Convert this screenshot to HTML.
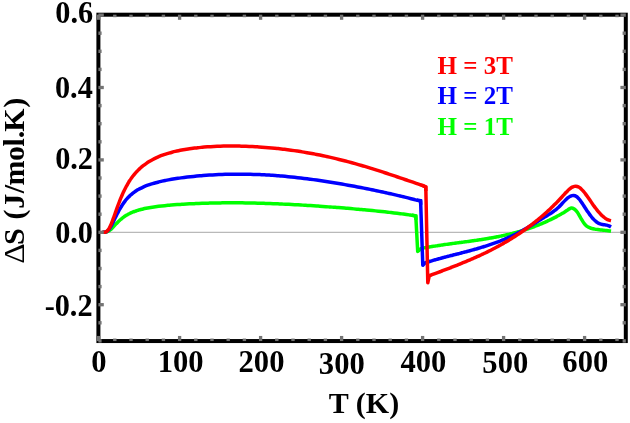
<!DOCTYPE html>
<html><head><meta charset="utf-8"><title>Chart</title>
<style>html,body{margin:0;padding:0;background:#fff}svg{display:block}</style></head>
<body>
<svg width="630" height="423" viewBox="0 0 630 423">
<rect width="630" height="423" fill="#fff"/>
<line x1="100" x2="624" y1="232.40" y2="232.40" stroke="#b9b9b9" stroke-width="1.3"/>
<path d="M102.50 232.30C102.69 232.30 103.26 232.30 103.64 232.29C104.02 232.29 104.39 232.28 104.77 232.25C105.15 232.22 105.53 232.19 105.91 232.11C106.29 232.04 106.67 231.94 107.05 231.81C107.42 231.67 107.80 231.50 108.18 231.30C108.56 231.09 108.94 230.85 109.32 230.57C109.70 230.30 110.08 229.99 110.45 229.67C110.83 229.34 111.21 228.98 111.59 228.62C111.97 228.25 112.35 227.86 112.73 227.47C113.11 227.08 113.48 226.68 113.86 226.27C114.24 225.87 114.62 225.46 115.00 225.06C115.38 224.66 115.76 224.25 116.14 223.86C116.52 223.46 116.89 223.07 117.27 222.68C117.65 222.30 118.03 221.93 118.41 221.56C118.79 221.19 119.17 220.84 119.55 220.49C119.92 220.14 120.30 219.81 120.68 219.48C121.06 219.15 121.44 218.84 121.82 218.53C122.20 218.22 122.58 217.93 122.95 217.64C123.33 217.36 123.71 217.08 124.09 216.81C124.47 216.55 124.85 216.29 125.23 216.04C125.61 215.79 125.98 215.55 126.36 215.32C126.74 215.09 127.12 214.87 127.50 214.66C127.88 214.44 128.26 214.23 128.64 214.03C129.02 213.83 129.39 213.64 129.77 213.46C130.15 213.27 130.53 213.09 130.91 212.92C131.29 212.74 131.67 212.58 132.05 212.42C132.42 212.25 132.80 212.10 133.18 211.95C133.56 211.80 133.94 211.65 134.32 211.51C134.70 211.37 135.08 211.23 135.45 211.10C135.83 210.97 136.21 210.84 136.59 210.72C136.97 210.60 137.35 210.48 137.73 210.36C138.11 210.24 138.48 210.13 138.86 210.02C139.24 209.92 139.29 209.89 140.00 209.71C140.71 209.53 142.07 209.17 143.10 208.93C144.13 208.69 145.16 208.48 146.20 208.27C147.23 208.06 148.26 207.87 149.30 207.69C150.33 207.51 151.36 207.35 152.40 207.19C153.43 207.03 154.46 206.88 155.49 206.74C156.53 206.60 157.56 206.47 158.59 206.34C159.63 206.21 160.66 206.09 161.69 205.98C162.73 205.87 163.76 205.76 164.79 205.65C165.82 205.55 166.86 205.45 167.89 205.36C168.92 205.26 169.96 205.17 170.99 205.09C172.02 205.00 173.05 204.92 174.09 204.84C175.12 204.76 176.15 204.68 177.19 204.61C178.22 204.53 179.25 204.46 180.29 204.39C181.32 204.33 182.35 204.26 183.38 204.20C184.42 204.14 185.45 204.08 186.48 204.02C187.52 203.96 188.55 203.91 189.58 203.85C190.61 203.80 191.65 203.75 192.68 203.70C193.71 203.65 194.75 203.61 195.78 203.56C196.81 203.52 197.85 203.48 198.88 203.44C199.91 203.40 200.94 203.36 201.98 203.33C203.01 203.29 204.04 203.26 205.08 203.22C206.11 203.19 207.14 203.16 208.18 203.13C209.21 203.11 210.24 203.08 211.27 203.06C212.31 203.03 213.34 203.01 214.37 202.99C215.41 202.97 216.44 202.95 217.47 202.93C218.50 202.92 219.54 202.90 220.57 202.89C221.60 202.88 222.64 202.86 223.67 202.85C224.70 202.85 225.74 202.84 226.77 202.83C227.80 202.83 228.83 202.82 229.87 202.82C230.90 202.82 231.93 202.82 232.97 202.82C234.00 202.82 235.03 202.82 236.07 202.82C237.10 202.83 238.13 202.83 239.16 202.84C240.20 202.85 241.23 202.86 242.26 202.87C243.30 202.88 244.33 202.89 245.36 202.91C246.39 202.92 247.43 202.94 248.46 202.96C249.49 202.97 250.53 202.99 251.56 203.01C252.59 203.03 253.63 203.05 254.66 203.08C255.69 203.10 256.72 203.13 257.76 203.15C258.79 203.18 259.82 203.21 260.86 203.24C261.89 203.27 262.92 203.30 263.96 203.33C264.99 203.36 266.02 203.40 267.05 203.43C268.09 203.47 269.12 203.50 270.15 203.54C271.19 203.58 272.22 203.62 273.25 203.66C274.28 203.70 275.32 203.74 276.35 203.78C277.38 203.82 278.42 203.87 279.45 203.91C280.48 203.96 281.52 204.01 282.55 204.05C283.58 204.10 284.61 204.15 285.65 204.20C286.68 204.25 287.71 204.30 288.75 204.35C289.78 204.41 290.81 204.46 291.84 204.51C292.88 204.57 293.91 204.62 294.94 204.68C295.98 204.74 297.01 204.80 298.04 204.85C299.08 204.91 300.11 204.97 301.14 205.03C302.17 205.09 303.21 205.16 304.24 205.22C305.27 205.28 306.31 205.34 307.34 205.41C308.37 205.47 309.41 205.54 310.44 205.60C311.47 205.67 312.50 205.74 313.54 205.81C314.57 205.87 315.60 205.94 316.64 206.01C317.67 206.08 318.70 206.15 319.73 206.22C320.77 206.29 321.80 206.37 322.83 206.44C323.87 206.51 324.90 206.59 325.93 206.66C326.97 206.74 328.00 206.81 329.03 206.89C330.06 206.96 331.10 207.04 332.13 207.12C333.16 207.20 334.20 207.27 335.23 207.35C336.26 207.43 337.30 207.51 338.33 207.59C339.36 207.67 340.39 207.76 341.43 207.84C342.46 207.92 343.49 208.00 344.53 208.09C345.56 208.17 346.59 208.26 347.62 208.34C348.66 208.43 349.69 208.51 350.72 208.60C351.76 208.69 352.79 208.78 353.82 208.87C354.86 208.96 355.89 209.05 356.92 209.14C357.95 209.23 358.99 209.32 360.02 209.41C361.05 209.50 362.09 209.60 363.12 209.69C364.15 209.79 365.19 209.88 366.22 209.98C367.25 210.08 368.28 210.18 369.32 210.27C370.35 210.37 371.38 210.47 372.42 210.57C373.45 210.68 374.48 210.78 375.51 210.88C376.55 210.99 377.58 211.09 378.61 211.20C379.65 211.30 380.68 211.41 381.71 211.52C382.75 211.63 383.78 211.74 384.81 211.85C385.84 211.96 386.88 212.08 387.91 212.19C388.94 212.31 389.98 212.43 391.01 212.55C392.04 212.66 393.07 212.78 394.11 212.91C395.14 213.03 396.17 213.15 397.21 213.28C398.24 213.41 399.27 213.54 400.31 213.67C401.34 213.80 402.37 213.93 403.40 214.06C404.44 214.20 405.47 214.34 406.50 214.48C407.54 214.62 408.57 214.76 409.60 214.91C410.64 215.05 411.67 215.18 412.70 215.35C413.73 215.51 415.28 215.81 415.80 215.90L417.70 251.50L421.30 248.40C421.55 248.36 422.28 248.22 422.77 248.14C423.26 248.05 423.75 247.96 424.24 247.87C424.73 247.78 425.22 247.70 425.71 247.61C426.20 247.52 426.69 247.43 427.18 247.34C427.67 247.25 428.16 247.17 428.65 247.08C429.14 246.99 429.63 246.91 430.12 246.82C430.61 246.74 431.10 246.66 431.59 246.58C432.08 246.50 432.57 246.42 433.06 246.34C433.55 246.26 434.04 246.19 434.53 246.11C435.03 246.03 435.52 245.96 436.01 245.88C436.50 245.80 436.99 245.73 437.48 245.66C437.97 245.58 438.46 245.51 438.95 245.43C439.44 245.36 439.93 245.29 440.42 245.22C440.91 245.15 441.40 245.07 441.89 245.00C442.38 244.93 442.87 244.86 443.36 244.79C443.85 244.72 444.34 244.65 444.83 244.58C445.32 244.52 445.81 244.45 446.30 244.38C446.79 244.31 447.28 244.24 447.77 244.18C448.26 244.11 448.75 244.04 449.24 243.97C449.73 243.91 450.22 243.84 450.71 243.77C451.20 243.71 451.69 243.64 452.18 243.58C452.67 243.51 453.16 243.44 453.65 243.38C454.14 243.31 454.63 243.25 455.12 243.18C455.61 243.12 456.10 243.05 456.59 242.99C457.08 242.92 457.57 242.86 458.06 242.79C458.55 242.73 459.04 242.66 459.53 242.60C460.02 242.53 460.51 242.47 461.00 242.40C461.49 242.34 461.99 242.27 462.48 242.21C462.97 242.14 463.46 242.08 463.95 242.01C464.44 241.95 464.93 241.88 465.42 241.81C465.91 241.75 466.40 241.68 466.89 241.62C467.38 241.55 467.87 241.48 468.36 241.42C468.85 241.35 469.34 241.28 469.83 241.21C470.32 241.15 470.81 241.08 471.30 241.01C471.79 240.94 472.28 240.87 472.77 240.80C473.26 240.73 473.75 240.67 474.24 240.60C474.73 240.53 475.22 240.45 475.71 240.38C476.20 240.31 476.69 240.24 477.18 240.17C477.67 240.10 478.16 240.02 478.65 239.95C479.14 239.88 479.63 239.80 480.12 239.73C480.61 239.66 481.10 239.58 481.59 239.50C482.08 239.43 482.57 239.35 483.06 239.27C483.55 239.20 484.04 239.12 484.53 239.04C485.02 238.96 485.51 238.88 486.00 238.80C486.49 238.72 486.98 238.64 487.47 238.56C487.96 238.47 488.45 238.39 488.94 238.31C489.44 238.22 489.93 238.14 490.42 238.05C490.91 237.97 491.40 237.88 491.89 237.79C492.38 237.70 492.87 237.62 493.36 237.53C493.85 237.44 494.34 237.34 494.83 237.25C495.32 237.16 495.81 237.07 496.30 236.97C496.79 236.88 497.28 236.78 497.77 236.69C498.26 236.59 498.75 236.49 499.24 236.39C499.73 236.29 500.22 236.19 500.71 236.09C501.20 235.99 501.69 235.89 502.18 235.78C502.67 235.68 503.16 235.57 503.65 235.47C504.14 235.36 504.63 235.25 505.12 235.14C505.61 235.03 506.10 234.92 506.59 234.81C507.08 234.69 507.57 234.58 508.06 234.46C508.55 234.35 509.04 234.23 509.53 234.11C510.02 233.99 510.51 233.87 511.00 233.75C511.49 233.63 511.98 233.51 512.47 233.38C512.96 233.26 513.45 233.13 513.94 233.00C514.43 232.87 514.92 232.74 515.41 232.61C515.90 232.48 516.40 232.35 516.89 232.21C517.38 232.07 517.87 231.94 518.36 231.80C518.85 231.66 519.34 231.52 519.83 231.38C520.32 231.23 520.81 231.09 521.30 230.94C521.79 230.80 522.28 230.65 522.77 230.50C523.26 230.35 523.75 230.20 524.24 230.04C524.73 229.89 525.22 229.73 525.71 229.57C526.20 229.41 526.69 229.25 527.18 229.09C527.67 228.93 528.16 228.77 528.65 228.60C529.14 228.43 529.63 228.26 530.12 228.09C530.61 227.92 531.10 227.75 531.59 227.58C532.08 227.40 532.57 227.22 533.06 227.04C533.55 226.86 534.04 226.68 534.53 226.50C535.02 226.32 535.51 226.13 536.00 225.94C536.49 225.75 536.98 225.56 537.47 225.37C537.96 225.18 538.45 224.98 538.94 224.78C539.43 224.59 539.92 224.39 540.41 224.18C540.90 223.98 541.39 223.78 541.88 223.57C542.37 223.36 542.86 223.15 543.36 222.94C543.85 222.73 544.34 222.51 544.83 222.30C545.32 222.08 545.81 221.86 546.30 221.64C546.79 221.41 547.28 221.19 547.77 220.96C548.26 220.73 548.75 220.50 549.24 220.27C549.73 220.04 550.22 219.80 550.71 219.57C551.20 219.33 551.69 219.09 552.18 218.84C552.67 218.60 553.16 218.36 553.65 218.11C554.14 217.86 554.63 217.61 555.12 217.35C555.61 217.10 556.10 216.84 556.59 216.58C557.08 216.32 557.57 216.06 558.06 215.79C558.55 215.53 559.04 215.26 559.53 214.99C560.02 214.72 560.51 214.44 561.00 214.17C561.49 213.89 561.98 213.61 562.47 213.32C562.96 213.04 563.45 212.75 563.94 212.45C564.43 212.15 564.92 211.84 565.41 211.52C565.90 211.20 566.39 210.86 566.88 210.52C567.37 210.18 567.86 209.79 568.35 209.46C568.84 209.14 569.33 208.79 569.82 208.56C570.31 208.32 570.81 208.13 571.30 208.08C571.79 208.02 572.28 208.07 572.77 208.21C573.26 208.36 573.75 208.62 574.24 208.96C574.73 209.30 575.22 209.74 575.71 210.27C576.20 210.79 576.69 211.41 577.18 212.10C577.67 212.78 578.16 213.58 578.65 214.38C579.14 215.18 579.63 216.06 580.12 216.91C580.61 217.76 581.10 218.66 581.59 219.49C582.08 220.32 582.57 221.16 583.06 221.90C583.55 222.65 584.04 223.35 584.53 223.94C585.02 224.54 585.51 225.05 586.00 225.49C586.49 225.94 586.98 226.30 587.47 226.62C587.96 226.95 588.45 227.20 588.94 227.43C589.43 227.66 589.92 227.84 590.41 228.01C590.90 228.18 591.39 228.31 591.88 228.45C592.37 228.59 592.86 228.71 593.35 228.82C593.84 228.93 594.33 229.03 594.82 229.13C595.31 229.22 595.80 229.31 596.29 229.38C596.78 229.46 597.27 229.53 597.77 229.60C598.26 229.67 598.75 229.73 599.24 229.78C599.73 229.84 600.22 229.89 600.71 229.94C601.20 229.99 601.69 230.04 602.18 230.09C602.67 230.14 603.16 230.18 603.65 230.23C604.14 230.28 604.63 230.33 605.12 230.38C605.61 230.44 606.10 230.49 606.59 230.55C607.08 230.61 607.57 230.67 608.06 230.74C608.55 230.81 609.04 230.89 609.53 230.97C610.02 231.06 610.75 231.20 611.00 231.25" fill="none" stroke="#00ff00" stroke-width="3.5" stroke-linejoin="round" stroke-linecap="butt"/>
<path d="M411.85 215.27L415.80 215.90L416.01 219.89" fill="none" stroke="#00ff00" stroke-width="3.5" stroke-linejoin="miter" stroke-miterlimit="6" stroke-linecap="butt"/>
<path d="M102.50 232.30C102.69 232.30 103.26 232.30 103.64 232.29C104.02 232.27 104.39 232.26 104.77 232.21C105.15 232.15 105.53 232.08 105.91 231.94C106.29 231.79 106.67 231.61 107.05 231.35C107.42 231.09 107.80 230.76 108.18 230.36C108.56 229.97 108.94 229.49 109.32 228.97C109.70 228.45 110.08 227.85 110.45 227.22C110.83 226.59 111.21 225.90 111.59 225.19C111.97 224.49 112.35 223.73 112.73 222.98C113.11 222.23 113.48 221.44 113.86 220.66C114.24 219.89 114.62 219.10 115.00 218.32C115.38 217.54 115.76 216.76 116.14 215.99C116.52 215.23 116.89 214.47 117.27 213.73C117.65 212.99 118.03 212.26 118.41 211.56C118.79 210.85 119.17 210.16 119.55 209.49C119.92 208.82 120.30 208.16 120.68 207.53C121.06 206.90 121.44 206.29 121.82 205.70C122.20 205.11 122.58 204.53 122.95 203.98C123.33 203.43 123.71 202.89 124.09 202.38C124.47 201.86 124.85 201.36 125.23 200.88C125.61 200.40 125.98 199.94 126.36 199.49C126.74 199.04 127.12 198.61 127.50 198.19C127.88 197.78 128.26 197.38 128.64 196.99C129.02 196.60 129.39 196.23 129.77 195.87C130.15 195.51 130.53 195.16 130.91 194.82C131.29 194.49 131.67 194.16 132.05 193.85C132.42 193.54 132.80 193.23 133.18 192.94C133.56 192.65 133.94 192.37 134.32 192.09C134.70 191.82 135.08 191.56 135.45 191.30C135.83 191.04 136.21 190.80 136.59 190.56C136.97 190.32 137.35 190.08 137.73 189.86C138.11 189.63 138.48 189.41 138.86 189.20C139.24 188.99 139.29 188.94 140.00 188.59C140.71 188.23 142.10 187.53 143.15 187.05C144.20 186.57 145.25 186.14 146.31 185.73C147.36 185.32 148.41 184.95 149.46 184.59C150.51 184.23 151.56 183.90 152.61 183.58C153.66 183.26 154.71 182.97 155.76 182.69C156.81 182.40 157.87 182.14 158.92 181.88C159.97 181.63 161.02 181.39 162.07 181.16C163.12 180.93 164.17 180.71 165.22 180.50C166.27 180.29 167.32 180.09 168.38 179.89C169.43 179.70 170.48 179.51 171.53 179.33C172.58 179.15 173.63 178.98 174.68 178.82C175.73 178.65 176.78 178.49 177.83 178.34C178.88 178.18 179.94 178.03 180.99 177.89C182.04 177.75 183.09 177.61 184.14 177.48C185.19 177.34 186.24 177.21 187.29 177.09C188.34 176.97 189.39 176.85 190.44 176.73C191.50 176.62 192.55 176.50 193.60 176.40C194.65 176.29 195.70 176.19 196.75 176.09C197.80 175.99 198.85 175.89 199.90 175.80C200.95 175.71 202.01 175.63 203.06 175.54C204.11 175.46 205.16 175.38 206.21 175.30C207.26 175.23 208.31 175.16 209.36 175.09C210.41 175.02 211.46 174.96 212.51 174.90C213.57 174.84 214.62 174.78 215.67 174.73C216.72 174.67 217.77 174.62 218.82 174.58C219.87 174.53 220.92 174.49 221.97 174.45C223.02 174.41 224.07 174.38 225.13 174.35C226.18 174.31 227.23 174.29 228.28 174.26C229.33 174.24 230.38 174.22 231.43 174.20C232.48 174.19 233.53 174.17 234.58 174.16C235.64 174.15 236.69 174.15 237.74 174.15C238.79 174.14 239.84 174.14 240.89 174.15C241.94 174.15 242.99 174.16 244.04 174.17C245.09 174.19 246.14 174.20 247.20 174.22C248.25 174.24 249.30 174.26 250.35 174.29C251.40 174.31 252.45 174.34 253.50 174.38C254.55 174.41 255.60 174.44 256.65 174.48C257.70 174.52 258.76 174.57 259.81 174.61C260.86 174.66 261.91 174.71 262.96 174.76C264.01 174.82 265.06 174.87 266.11 174.93C267.16 174.99 268.21 175.06 269.27 175.12C270.32 175.19 271.37 175.26 272.42 175.33C273.47 175.40 274.52 175.48 275.57 175.56C276.62 175.64 277.67 175.72 278.72 175.80C279.77 175.89 280.83 175.98 281.88 176.07C282.93 176.16 283.98 176.25 285.03 176.35C286.08 176.45 287.13 176.55 288.18 176.65C289.23 176.75 290.28 176.86 291.33 176.97C292.39 177.08 293.44 177.19 294.49 177.30C295.54 177.42 296.59 177.53 297.64 177.65C298.69 177.77 299.74 177.89 300.79 178.02C301.84 178.14 302.90 178.27 303.95 178.40C305.00 178.53 306.05 178.66 307.10 178.80C308.15 178.93 309.20 179.07 310.25 179.21C311.30 179.35 312.35 179.49 313.40 179.64C314.46 179.78 315.51 179.93 316.56 180.08C317.61 180.23 318.66 180.38 319.71 180.53C320.76 180.69 321.81 180.84 322.86 181.00C323.91 181.16 324.96 181.32 326.02 181.48C327.07 181.64 328.12 181.81 329.17 181.97C330.22 182.14 331.27 182.31 332.32 182.48C333.37 182.65 334.42 182.82 335.47 183.00C336.53 183.17 337.58 183.35 338.63 183.52C339.68 183.70 340.73 183.88 341.78 184.06C342.83 184.25 343.88 184.43 344.93 184.61C345.98 184.80 347.03 184.99 348.09 185.18C349.14 185.37 350.19 185.56 351.24 185.75C352.29 185.94 353.34 186.14 354.39 186.33C355.44 186.53 356.49 186.73 357.54 186.93C358.59 187.13 359.65 187.33 360.70 187.53C361.75 187.73 362.80 187.94 363.85 188.15C364.90 188.35 365.95 188.56 367.00 188.77C368.05 188.98 369.10 189.19 370.16 189.40C371.21 189.62 372.26 189.83 373.31 190.05C374.36 190.27 375.41 190.49 376.46 190.71C377.51 190.93 378.56 191.15 379.61 191.37C380.66 191.60 381.72 191.82 382.77 192.05C383.82 192.28 384.87 192.51 385.92 192.74C386.97 192.97 388.02 193.21 389.07 193.44C390.12 193.68 391.17 193.91 392.22 194.15C393.28 194.39 394.33 194.64 395.38 194.88C396.43 195.12 397.48 195.37 398.53 195.62C399.58 195.87 400.63 196.12 401.68 196.37C402.73 196.62 403.79 196.88 404.84 197.14C405.89 197.39 406.94 197.66 407.99 197.92C409.04 198.18 410.09 198.45 411.14 198.72C412.19 198.98 413.24 199.26 414.29 199.53C415.35 199.81 416.40 200.17 417.45 200.36C418.50 200.56 420.07 200.64 420.60 200.70L422.80 265.30L425.20 262.80C425.44 262.73 426.16 262.51 426.64 262.36C427.12 262.22 427.60 262.07 428.08 261.93C428.56 261.78 429.04 261.64 429.52 261.49C430.00 261.35 430.48 261.20 430.96 261.06C431.44 260.91 431.92 260.76 432.40 260.62C432.88 260.48 433.36 260.33 433.84 260.19C434.32 260.05 434.80 259.92 435.28 259.78C435.76 259.65 436.24 259.51 436.72 259.38C437.20 259.24 437.68 259.11 438.16 258.98C438.64 258.85 439.12 258.71 439.60 258.58C440.08 258.45 440.56 258.32 441.04 258.19C441.52 258.06 442.00 257.93 442.48 257.81C442.96 257.68 443.44 257.55 443.92 257.42C444.40 257.29 444.88 257.17 445.36 257.04C445.84 256.92 446.32 256.79 446.80 256.67C447.28 256.54 447.76 256.42 448.24 256.29C448.73 256.17 449.21 256.04 449.69 255.92C450.17 255.79 450.65 255.67 451.13 255.55C451.61 255.42 452.09 255.30 452.57 255.18C453.05 255.05 453.53 254.93 454.01 254.81C454.49 254.69 454.97 254.56 455.45 254.44C455.93 254.32 456.41 254.19 456.89 254.07C457.37 253.95 457.85 253.83 458.33 253.70C458.81 253.58 459.29 253.46 459.77 253.33C460.25 253.21 460.73 253.09 461.21 252.96C461.69 252.84 462.17 252.71 462.65 252.59C463.13 252.46 463.61 252.34 464.09 252.21C464.57 252.09 465.05 251.96 465.53 251.84C466.01 251.71 466.49 251.58 466.97 251.46C467.45 251.33 467.93 251.20 468.41 251.07C468.89 250.95 469.37 250.82 469.85 250.69C470.33 250.56 470.81 250.43 471.29 250.30C471.77 250.17 472.25 250.03 472.73 249.90C473.21 249.77 473.69 249.64 474.17 249.50C474.65 249.37 475.13 249.23 475.61 249.10C476.09 248.96 476.57 248.82 477.05 248.69C477.53 248.55 478.01 248.41 478.49 248.27C478.97 248.13 479.45 247.99 479.93 247.85C480.41 247.70 480.89 247.56 481.37 247.42C481.85 247.27 482.33 247.13 482.81 246.98C483.29 246.83 483.77 246.68 484.25 246.53C484.73 246.38 485.21 246.23 485.69 246.08C486.17 245.93 486.65 245.77 487.13 245.62C487.61 245.46 488.09 245.31 488.57 245.15C489.05 244.99 489.53 244.83 490.01 244.67C490.49 244.51 490.97 244.34 491.45 244.18C491.93 244.01 492.41 243.85 492.89 243.68C493.37 243.51 493.85 243.34 494.33 243.17C494.81 243.00 495.30 242.82 495.78 242.65C496.26 242.47 496.74 242.30 497.22 242.12C497.70 241.94 498.18 241.76 498.66 241.57C499.14 241.39 499.62 241.20 500.10 241.02C500.58 240.83 501.06 240.64 501.54 240.45C502.02 240.26 502.50 240.06 502.98 239.87C503.46 239.67 503.94 239.47 504.42 239.27C504.90 239.07 505.38 238.87 505.86 238.66C506.34 238.46 506.82 238.25 507.30 238.04C507.78 237.83 508.26 237.62 508.74 237.41C509.22 237.19 509.70 236.97 510.18 236.75C510.66 236.53 511.14 236.31 511.62 236.09C512.10 235.86 512.58 235.63 513.06 235.40C513.54 235.17 514.02 234.94 514.50 234.70C514.98 234.47 515.46 234.23 515.94 233.99C516.42 233.75 516.90 233.50 517.38 233.26C517.86 233.01 518.34 232.76 518.82 232.51C519.30 232.25 519.78 232.00 520.26 231.74C520.74 231.48 521.22 231.22 521.70 230.95C522.18 230.69 522.66 230.42 523.14 230.15C523.62 229.88 524.10 229.61 524.58 229.34C525.06 229.06 525.54 228.78 526.02 228.50C526.50 228.23 526.98 227.94 527.46 227.66C527.94 227.38 528.42 227.09 528.90 226.81C529.38 226.52 529.86 226.23 530.34 225.94C530.82 225.65 531.30 225.36 531.78 225.07C532.26 224.77 532.74 224.48 533.22 224.19C533.70 223.89 534.18 223.59 534.66 223.30C535.14 223.00 535.62 222.70 536.10 222.40C536.58 222.11 537.06 221.81 537.54 221.51C538.02 221.21 538.50 220.91 538.98 220.61C539.46 220.31 539.94 220.01 540.42 219.71C540.90 219.41 541.39 219.11 541.87 218.81C542.35 218.51 542.83 218.21 543.31 217.91C543.79 217.61 544.27 217.31 544.75 217.02C545.23 216.72 545.71 216.42 546.19 216.13C546.67 215.83 547.15 215.54 547.63 215.24C548.11 214.94 548.59 214.65 549.07 214.35C549.55 214.05 550.03 213.76 550.51 213.45C550.99 213.14 551.47 212.83 551.95 212.51C552.43 212.19 552.91 211.86 553.39 211.52C553.87 211.18 554.35 210.83 554.83 210.46C555.31 210.09 555.79 209.72 556.27 209.32C556.75 208.92 557.23 208.50 557.71 208.07C558.19 207.63 558.67 207.17 559.15 206.70C559.63 206.22 560.11 205.72 560.59 205.22C561.07 204.71 561.55 204.19 562.03 203.67C562.51 203.16 562.99 202.63 563.47 202.13C563.95 201.62 564.43 201.11 564.91 200.62C565.39 200.14 565.87 199.66 566.35 199.22C566.83 198.77 567.31 198.34 567.79 197.96C568.27 197.57 568.75 197.21 569.23 196.90C569.71 196.59 570.19 196.32 570.67 196.10C571.15 195.88 571.63 195.71 572.11 195.60C572.59 195.50 573.07 195.45 573.55 195.47C574.03 195.49 574.51 195.57 574.99 195.73C575.47 195.90 575.95 196.13 576.43 196.45C576.91 196.77 577.39 197.18 577.87 197.65C578.35 198.12 578.83 198.67 579.31 199.26C579.79 199.84 580.27 200.50 580.75 201.17C581.23 201.84 581.71 202.57 582.19 203.29C582.67 204.02 583.15 204.78 583.63 205.52C584.11 206.27 584.59 207.02 585.07 207.76C585.55 208.50 586.03 209.24 586.51 209.96C586.99 210.68 587.47 211.39 587.96 212.08C588.44 212.78 588.92 213.46 589.40 214.11C589.88 214.77 590.36 215.41 590.84 216.02C591.32 216.64 591.80 217.23 592.28 217.79C592.76 218.35 593.24 218.89 593.72 219.39C594.20 219.90 594.68 220.37 595.16 220.80C595.64 221.24 596.12 221.64 596.60 221.99C597.08 222.35 597.56 222.67 598.04 222.94C598.52 223.22 599.00 223.44 599.48 223.63C599.96 223.83 600.44 223.97 600.92 224.11C601.40 224.24 601.88 224.33 602.36 224.42C602.84 224.52 603.32 224.59 603.80 224.66C604.28 224.74 604.76 224.80 605.24 224.88C605.72 224.97 606.20 225.05 606.68 225.16C607.16 225.27 607.64 225.40 608.12 225.56C608.60 225.73 609.08 225.91 609.56 226.16C610.04 226.40 610.76 226.87 611.00 227.01" fill="none" stroke="#0000ff" stroke-width="3.5" stroke-linejoin="round" stroke-linecap="butt"/>
<path d="M416.67 199.97L420.60 200.70L420.74 204.70" fill="none" stroke="#0000ff" stroke-width="3.5" stroke-linejoin="miter" stroke-miterlimit="6" stroke-linecap="butt"/>
<path d="M102.50 232.30C102.69 232.30 103.26 232.30 103.64 232.28C104.02 232.26 104.39 232.26 104.77 232.18C105.15 232.11 105.53 232.03 105.91 231.85C106.29 231.67 106.67 231.44 107.05 231.10C107.42 230.77 107.80 230.35 108.18 229.84C108.56 229.33 108.94 228.72 109.32 228.04C109.70 227.36 110.08 226.58 110.45 225.75C110.83 224.92 111.21 224.01 111.59 223.07C111.97 222.13 112.35 221.12 112.73 220.11C113.11 219.09 113.48 218.03 113.86 216.97C114.24 215.91 114.62 214.83 115.00 213.75C115.38 212.68 115.76 211.59 116.14 210.52C116.52 209.46 116.89 208.39 117.27 207.35C117.65 206.30 118.03 205.27 118.41 204.25C118.79 203.24 119.17 202.25 119.55 201.28C119.92 200.30 120.30 199.35 120.68 198.43C121.06 197.50 121.44 196.60 121.82 195.72C122.20 194.84 122.58 193.99 122.95 193.15C123.33 192.32 123.71 191.52 124.09 190.73C124.47 189.95 124.85 189.19 125.23 188.45C125.61 187.71 125.98 186.99 126.36 186.29C126.74 185.60 127.12 184.92 127.50 184.27C127.88 183.61 128.26 182.98 128.64 182.36C129.02 181.74 129.39 181.15 129.77 180.57C130.15 179.99 130.53 179.43 130.91 178.88C131.29 178.33 131.67 177.80 132.05 177.29C132.42 176.78 132.80 176.28 133.18 175.79C133.56 175.31 133.94 174.84 134.32 174.38C134.70 173.92 135.08 173.48 135.45 173.05C135.83 172.62 136.21 172.20 136.59 171.79C136.97 171.38 137.35 170.99 137.73 170.60C138.11 170.21 138.48 169.84 138.86 169.47C139.24 169.11 139.28 169.04 140.00 168.41C140.72 167.78 142.14 166.53 143.21 165.69C144.28 164.84 145.35 164.06 146.42 163.33C147.49 162.59 148.56 161.92 149.63 161.27C150.70 160.63 151.77 160.04 152.84 159.47C153.92 158.91 154.99 158.38 156.06 157.88C157.13 157.39 158.20 156.92 159.27 156.48C160.34 156.04 161.41 155.62 162.48 155.23C163.55 154.83 164.62 154.46 165.69 154.11C166.76 153.76 167.83 153.43 168.90 153.11C169.97 152.80 171.04 152.50 172.11 152.22C173.18 151.94 174.25 151.67 175.32 151.42C176.39 151.16 177.46 150.92 178.53 150.70C179.61 150.47 180.68 150.25 181.75 150.05C182.82 149.84 183.89 149.65 184.96 149.47C186.03 149.28 187.10 149.11 188.17 148.95C189.24 148.78 190.31 148.63 191.38 148.48C192.45 148.34 193.52 148.20 194.59 148.07C195.66 147.94 196.73 147.81 197.80 147.70C198.87 147.58 199.94 147.48 201.01 147.38C202.08 147.27 203.15 147.18 204.22 147.09C205.30 147.00 206.37 146.92 207.44 146.85C208.51 146.77 209.58 146.70 210.65 146.64C211.72 146.57 212.79 146.51 213.86 146.46C214.93 146.41 216.00 146.36 217.07 146.32C218.14 146.27 219.21 146.24 220.28 146.20C221.35 146.17 222.42 146.14 223.49 146.12C224.56 146.10 225.63 146.08 226.70 146.07C227.77 146.05 228.84 146.05 229.91 146.04C230.99 146.04 232.06 146.04 233.13 146.04C234.20 146.05 235.27 146.05 236.34 146.07C237.41 146.08 238.48 146.10 239.55 146.12C240.62 146.14 241.69 146.17 242.76 146.19C243.83 146.22 244.90 146.26 245.97 146.30C247.04 146.33 248.11 146.37 249.18 146.42C250.25 146.47 251.32 146.52 252.39 146.57C253.46 146.62 254.53 146.68 255.60 146.74C256.67 146.80 257.75 146.87 258.82 146.94C259.89 147.01 260.96 147.08 262.03 147.16C263.10 147.23 264.17 147.31 265.24 147.40C266.31 147.48 267.38 147.57 268.45 147.67C269.52 147.76 270.59 147.85 271.66 147.95C272.73 148.05 273.80 148.16 274.87 148.27C275.94 148.37 277.01 148.49 278.08 148.60C279.15 148.72 280.22 148.84 281.29 148.96C282.36 149.08 283.44 149.21 284.51 149.34C285.58 149.47 286.65 149.61 287.72 149.75C288.79 149.89 289.86 150.03 290.93 150.17C292.00 150.32 293.07 150.47 294.14 150.63C295.21 150.78 296.28 150.94 297.35 151.10C298.42 151.26 299.49 151.43 300.56 151.60C301.63 151.77 302.70 151.95 303.77 152.12C304.84 152.30 305.91 152.48 306.98 152.67C308.05 152.86 309.13 153.05 310.20 153.24C311.27 153.43 312.34 153.63 313.41 153.83C314.48 154.04 315.55 154.24 316.62 154.45C317.69 154.66 318.76 154.87 319.83 155.09C320.90 155.31 321.97 155.53 323.04 155.76C324.11 155.98 325.18 156.21 326.25 156.44C327.32 156.68 328.39 156.92 329.46 157.16C330.53 157.40 331.60 157.64 332.67 157.89C333.74 158.14 334.81 158.39 335.89 158.65C336.96 158.90 338.03 159.16 339.10 159.43C340.17 159.69 341.24 159.96 342.31 160.23C343.38 160.50 344.45 160.78 345.52 161.06C346.59 161.33 347.66 161.62 348.73 161.90C349.80 162.19 350.87 162.48 351.94 162.77C353.01 163.06 354.08 163.36 355.15 163.66C356.22 163.96 357.29 164.26 358.36 164.57C359.43 164.87 360.50 165.18 361.58 165.49C362.65 165.81 363.72 166.12 364.79 166.44C365.86 166.76 366.93 167.08 368.00 167.41C369.07 167.73 370.14 168.06 371.21 168.39C372.28 168.72 373.35 169.05 374.42 169.39C375.49 169.72 376.56 170.06 377.63 170.40C378.70 170.74 379.77 171.08 380.84 171.43C381.91 171.77 382.98 172.12 384.05 172.47C385.12 172.82 386.19 173.17 387.27 173.52C388.34 173.88 389.41 174.23 390.48 174.59C391.55 174.95 392.62 175.30 393.69 175.66C394.76 176.02 395.83 176.38 396.90 176.74C397.97 177.11 399.04 177.47 400.11 177.83C401.18 178.20 402.25 178.56 403.32 178.92C404.39 179.29 405.46 179.65 406.53 180.02C407.60 180.39 408.67 180.75 409.74 181.12C410.81 181.48 411.88 181.85 412.96 182.21C414.03 182.58 415.10 182.94 416.17 183.30C417.24 183.67 418.31 184.03 419.38 184.39C420.45 184.75 421.52 185.04 422.59 185.47C423.66 185.91 425.26 186.75 425.80 187.00L427.80 282.80L429.20 275.80C429.43 275.71 430.14 275.44 430.61 275.27C431.08 275.09 431.55 274.91 432.02 274.73C432.49 274.56 432.96 274.38 433.43 274.20C433.90 274.02 434.37 273.85 434.84 273.67C435.31 273.49 435.78 273.31 436.25 273.14C436.72 272.96 437.19 272.78 437.66 272.60C438.13 272.43 438.60 272.25 439.07 272.07C439.53 271.89 440.00 271.72 440.47 271.54C440.94 271.36 441.41 271.18 441.88 271.00C442.35 270.82 442.82 270.65 443.29 270.47C443.76 270.29 444.23 270.11 444.70 269.93C445.17 269.75 445.64 269.57 446.11 269.39C446.58 269.21 447.05 269.03 447.52 268.85C447.99 268.67 448.46 268.49 448.93 268.31C449.40 268.13 449.87 267.95 450.34 267.77C450.81 267.59 451.28 267.40 451.75 267.22C452.22 267.04 452.69 266.86 453.16 266.67C453.63 266.49 454.10 266.30 454.57 266.12C455.04 265.94 455.51 265.75 455.98 265.57C456.45 265.38 456.92 265.19 457.39 265.01C457.86 264.82 458.33 264.63 458.80 264.44C459.27 264.26 459.73 264.07 460.20 263.88C460.67 263.69 461.14 263.50 461.61 263.31C462.08 263.12 462.55 262.93 463.02 262.73C463.49 262.54 463.96 262.35 464.43 262.15C464.90 261.96 465.37 261.77 465.84 261.57C466.31 261.37 466.78 261.18 467.25 260.98C467.72 260.78 468.19 260.59 468.66 260.39C469.13 260.19 469.60 259.99 470.07 259.79C470.54 259.59 471.01 259.38 471.48 259.18C471.95 258.98 472.42 258.77 472.89 258.57C473.36 258.36 473.83 258.16 474.30 257.95C474.77 257.74 475.24 257.54 475.71 257.33C476.18 257.12 476.65 256.91 477.12 256.70C477.59 256.48 478.06 256.27 478.53 256.06C479.00 255.84 479.47 255.63 479.93 255.41C480.40 255.20 480.87 254.98 481.34 254.76C481.81 254.54 482.28 254.32 482.75 254.10C483.22 253.88 483.69 253.65 484.16 253.43C484.63 253.21 485.10 252.98 485.57 252.75C486.04 252.53 486.51 252.30 486.98 252.07C487.45 251.84 487.92 251.61 488.39 251.38C488.86 251.14 489.33 250.91 489.80 250.67C490.27 250.44 490.74 250.20 491.21 249.96C491.68 249.72 492.15 249.48 492.62 249.24C493.09 249.00 493.56 248.76 494.03 248.51C494.50 248.27 494.97 248.02 495.44 247.77C495.91 247.52 496.38 247.27 496.85 247.02C497.32 246.77 497.79 246.51 498.26 246.26C498.73 246.00 499.20 245.75 499.67 245.49C500.13 245.23 500.60 244.97 501.07 244.71C501.54 244.44 502.01 244.18 502.48 243.91C502.95 243.65 503.42 243.38 503.89 243.11C504.36 242.84 504.83 242.57 505.30 242.29C505.77 242.02 506.24 241.74 506.71 241.47C507.18 241.19 507.65 240.91 508.12 240.63C508.59 240.35 509.06 240.06 509.53 239.78C510.00 239.49 510.47 239.20 510.94 238.91C511.41 238.62 511.88 238.33 512.35 238.04C512.82 237.74 513.29 237.45 513.76 237.15C514.23 236.85 514.70 236.55 515.17 236.24C515.64 235.94 516.11 235.64 516.58 235.33C517.05 235.02 517.52 234.71 517.99 234.40C518.46 234.09 518.93 233.77 519.40 233.46C519.87 233.14 520.33 232.82 520.80 232.50C521.27 232.18 521.74 231.85 522.21 231.53C522.68 231.20 523.15 230.87 523.62 230.54C524.09 230.21 524.56 229.88 525.03 229.54C525.50 229.20 525.97 228.86 526.44 228.52C526.91 228.18 527.38 227.84 527.85 227.49C528.32 227.15 528.79 226.80 529.26 226.45C529.73 226.09 530.20 225.74 530.67 225.38C531.14 225.03 531.61 224.67 532.08 224.30C532.55 223.94 533.02 223.58 533.49 223.21C533.96 222.84 534.43 222.47 534.90 222.10C535.37 221.73 535.84 221.35 536.31 220.97C536.78 220.59 537.25 220.21 537.72 219.83C538.19 219.44 538.66 219.05 539.13 218.66C539.60 218.27 540.07 217.88 540.53 217.49C541.00 217.09 541.47 216.69 541.94 216.29C542.41 215.89 542.88 215.48 543.35 215.07C543.82 214.66 544.29 214.25 544.76 213.84C545.23 213.42 545.70 213.00 546.17 212.58C546.64 212.16 547.11 211.73 547.58 211.31C548.05 210.88 548.52 210.44 548.99 210.01C549.46 209.57 549.93 209.13 550.40 208.69C550.87 208.24 551.34 207.79 551.81 207.34C552.28 206.89 552.75 206.43 553.22 205.97C553.69 205.51 554.16 205.05 554.63 204.58C555.10 204.11 555.57 203.64 556.04 203.16C556.51 202.68 556.98 202.20 557.45 201.72C557.92 201.23 558.39 200.74 558.86 200.24C559.33 199.75 559.80 199.25 560.27 198.74C560.73 198.24 561.20 197.73 561.67 197.21C562.14 196.70 562.61 196.18 563.08 195.66C563.55 195.14 564.02 194.61 564.49 194.10C564.96 193.59 565.43 193.07 565.90 192.58C566.37 192.08 566.84 191.59 567.31 191.13C567.78 190.66 568.25 190.21 568.72 189.79C569.19 189.37 569.66 188.97 570.13 188.60C570.60 188.24 571.07 187.90 571.54 187.60C572.01 187.31 572.48 187.04 572.95 186.84C573.42 186.63 573.89 186.46 574.36 186.36C574.83 186.26 575.30 186.20 575.77 186.22C576.24 186.23 576.71 186.32 577.18 186.46C577.65 186.59 578.12 186.80 578.59 187.05C579.06 187.31 579.53 187.62 580.00 187.97C580.47 188.33 580.93 188.74 581.40 189.18C581.87 189.62 582.34 190.11 582.81 190.62C583.28 191.14 583.75 191.69 584.22 192.27C584.69 192.84 585.16 193.45 585.63 194.07C586.10 194.70 586.57 195.34 587.04 196.00C587.51 196.66 587.98 197.33 588.45 198.01C588.92 198.69 589.39 199.38 589.86 200.06C590.33 200.75 590.80 201.44 591.27 202.12C591.74 202.80 592.21 203.47 592.68 204.14C593.15 204.80 593.62 205.46 594.09 206.10C594.56 206.75 595.03 207.38 595.50 208.00C595.97 208.62 596.44 209.23 596.91 209.82C597.38 210.41 597.85 210.99 598.32 211.55C598.79 212.11 599.26 212.65 599.73 213.17C600.20 213.69 600.67 214.19 601.13 214.67C601.60 215.15 602.07 215.61 602.54 216.04C603.01 216.47 603.48 216.88 603.95 217.26C604.42 217.64 604.89 217.99 605.36 218.32C605.83 218.64 606.30 218.94 606.77 219.20C607.24 219.46 607.71 219.70 608.18 219.89C608.65 220.09 609.12 220.26 609.59 220.39C610.06 220.52 610.77 220.62 611.00 220.67" fill="none" stroke="#ff0000" stroke-width="3.5" stroke-linejoin="round" stroke-linecap="butt"/>
<path d="M422.09 185.49L425.80 187.00L425.88 191.00" fill="none" stroke="#ff0000" stroke-width="3.5" stroke-linejoin="miter" stroke-miterlimit="6" stroke-linecap="butt"/>

<rect x="98.40" y="14.70" width="527.40" height="326.35" fill="none" stroke="#000" stroke-width="4"/>
<rect x="96.95" y="335.95" width="3.30" height="5.10" fill="#747474"/>
<rect x="96.95" y="14.70" width="3.30" height="5.10" fill="#747474"/>
<rect x="113.10" y="338.55" width="3.40" height="2.50" fill="#747474"/>
<rect x="113.10" y="14.70" width="3.40" height="2.50" fill="#747474"/>
<rect x="129.30" y="338.55" width="3.40" height="2.50" fill="#747474"/>
<rect x="129.30" y="14.70" width="3.40" height="2.50" fill="#747474"/>
<rect x="145.50" y="338.55" width="3.40" height="2.50" fill="#747474"/>
<rect x="145.50" y="14.70" width="3.40" height="2.50" fill="#747474"/>
<rect x="161.70" y="338.55" width="3.40" height="2.50" fill="#747474"/>
<rect x="161.70" y="14.70" width="3.40" height="2.50" fill="#747474"/>
<rect x="177.95" y="335.95" width="3.30" height="5.10" fill="#747474"/>
<rect x="177.95" y="14.70" width="3.30" height="5.10" fill="#747474"/>
<rect x="194.10" y="338.55" width="3.40" height="2.50" fill="#747474"/>
<rect x="194.10" y="14.70" width="3.40" height="2.50" fill="#747474"/>
<rect x="210.30" y="338.55" width="3.40" height="2.50" fill="#747474"/>
<rect x="210.30" y="14.70" width="3.40" height="2.50" fill="#747474"/>
<rect x="226.50" y="338.55" width="3.40" height="2.50" fill="#747474"/>
<rect x="226.50" y="14.70" width="3.40" height="2.50" fill="#747474"/>
<rect x="242.70" y="338.55" width="3.40" height="2.50" fill="#747474"/>
<rect x="242.70" y="14.70" width="3.40" height="2.50" fill="#747474"/>
<rect x="258.95" y="335.95" width="3.30" height="5.10" fill="#747474"/>
<rect x="258.95" y="14.70" width="3.30" height="5.10" fill="#747474"/>
<rect x="275.10" y="338.55" width="3.40" height="2.50" fill="#747474"/>
<rect x="275.10" y="14.70" width="3.40" height="2.50" fill="#747474"/>
<rect x="291.30" y="338.55" width="3.40" height="2.50" fill="#747474"/>
<rect x="291.30" y="14.70" width="3.40" height="2.50" fill="#747474"/>
<rect x="307.50" y="338.55" width="3.40" height="2.50" fill="#747474"/>
<rect x="307.50" y="14.70" width="3.40" height="2.50" fill="#747474"/>
<rect x="323.70" y="338.55" width="3.40" height="2.50" fill="#747474"/>
<rect x="323.70" y="14.70" width="3.40" height="2.50" fill="#747474"/>
<rect x="339.95" y="335.95" width="3.30" height="5.10" fill="#747474"/>
<rect x="339.95" y="14.70" width="3.30" height="5.10" fill="#747474"/>
<rect x="356.10" y="338.55" width="3.40" height="2.50" fill="#747474"/>
<rect x="356.10" y="14.70" width="3.40" height="2.50" fill="#747474"/>
<rect x="372.30" y="338.55" width="3.40" height="2.50" fill="#747474"/>
<rect x="372.30" y="14.70" width="3.40" height="2.50" fill="#747474"/>
<rect x="388.50" y="338.55" width="3.40" height="2.50" fill="#747474"/>
<rect x="388.50" y="14.70" width="3.40" height="2.50" fill="#747474"/>
<rect x="404.70" y="338.55" width="3.40" height="2.50" fill="#747474"/>
<rect x="404.70" y="14.70" width="3.40" height="2.50" fill="#747474"/>
<rect x="420.95" y="335.95" width="3.30" height="5.10" fill="#747474"/>
<rect x="420.95" y="14.70" width="3.30" height="5.10" fill="#747474"/>
<rect x="437.10" y="338.55" width="3.40" height="2.50" fill="#747474"/>
<rect x="437.10" y="14.70" width="3.40" height="2.50" fill="#747474"/>
<rect x="453.30" y="338.55" width="3.40" height="2.50" fill="#747474"/>
<rect x="453.30" y="14.70" width="3.40" height="2.50" fill="#747474"/>
<rect x="469.50" y="338.55" width="3.40" height="2.50" fill="#747474"/>
<rect x="469.50" y="14.70" width="3.40" height="2.50" fill="#747474"/>
<rect x="485.70" y="338.55" width="3.40" height="2.50" fill="#747474"/>
<rect x="485.70" y="14.70" width="3.40" height="2.50" fill="#747474"/>
<rect x="501.95" y="335.95" width="3.30" height="5.10" fill="#747474"/>
<rect x="501.95" y="14.70" width="3.30" height="5.10" fill="#747474"/>
<rect x="518.10" y="338.55" width="3.40" height="2.50" fill="#747474"/>
<rect x="518.10" y="14.70" width="3.40" height="2.50" fill="#747474"/>
<rect x="534.30" y="338.55" width="3.40" height="2.50" fill="#747474"/>
<rect x="534.30" y="14.70" width="3.40" height="2.50" fill="#747474"/>
<rect x="550.50" y="338.55" width="3.40" height="2.50" fill="#747474"/>
<rect x="550.50" y="14.70" width="3.40" height="2.50" fill="#747474"/>
<rect x="566.70" y="338.55" width="3.40" height="2.50" fill="#747474"/>
<rect x="566.70" y="14.70" width="3.40" height="2.50" fill="#747474"/>
<rect x="582.95" y="335.95" width="3.30" height="5.10" fill="#747474"/>
<rect x="582.95" y="14.70" width="3.30" height="5.10" fill="#747474"/>
<rect x="599.10" y="338.55" width="3.40" height="2.50" fill="#747474"/>
<rect x="599.10" y="14.70" width="3.40" height="2.50" fill="#747474"/>
<rect x="615.30" y="338.55" width="3.40" height="2.50" fill="#747474"/>
<rect x="615.30" y="14.70" width="3.40" height="2.50" fill="#747474"/>
<rect x="98.40" y="339.20" width="3.20" height="3.40" fill="#747474"/>
<rect x="622.60" y="339.20" width="3.20" height="3.40" fill="#747474"/>
<rect x="98.40" y="321.10" width="3.20" height="3.40" fill="#747474"/>
<rect x="622.60" y="321.10" width="3.20" height="3.40" fill="#747474"/>
<rect x="98.40" y="303.05" width="5.40" height="3.30" fill="#747474"/>
<rect x="620.40" y="303.05" width="5.40" height="3.30" fill="#747474"/>
<rect x="98.40" y="284.90" width="3.20" height="3.40" fill="#747474"/>
<rect x="622.60" y="284.90" width="3.20" height="3.40" fill="#747474"/>
<rect x="98.40" y="266.80" width="3.20" height="3.40" fill="#747474"/>
<rect x="622.60" y="266.80" width="3.20" height="3.40" fill="#747474"/>
<rect x="98.40" y="248.70" width="3.20" height="3.40" fill="#747474"/>
<rect x="622.60" y="248.70" width="3.20" height="3.40" fill="#747474"/>
<rect x="98.40" y="230.65" width="5.40" height="3.30" fill="#747474"/>
<rect x="620.40" y="230.65" width="5.40" height="3.30" fill="#747474"/>
<rect x="98.40" y="212.50" width="3.20" height="3.40" fill="#747474"/>
<rect x="622.60" y="212.50" width="3.20" height="3.40" fill="#747474"/>
<rect x="98.40" y="194.40" width="3.20" height="3.40" fill="#747474"/>
<rect x="622.60" y="194.40" width="3.20" height="3.40" fill="#747474"/>
<rect x="98.40" y="176.30" width="3.20" height="3.40" fill="#747474"/>
<rect x="622.60" y="176.30" width="3.20" height="3.40" fill="#747474"/>
<rect x="98.40" y="158.25" width="5.40" height="3.30" fill="#747474"/>
<rect x="620.40" y="158.25" width="5.40" height="3.30" fill="#747474"/>
<rect x="98.40" y="140.10" width="3.20" height="3.40" fill="#747474"/>
<rect x="622.60" y="140.10" width="3.20" height="3.40" fill="#747474"/>
<rect x="98.40" y="122.00" width="3.20" height="3.40" fill="#747474"/>
<rect x="622.60" y="122.00" width="3.20" height="3.40" fill="#747474"/>
<rect x="98.40" y="103.90" width="3.20" height="3.40" fill="#747474"/>
<rect x="622.60" y="103.90" width="3.20" height="3.40" fill="#747474"/>
<rect x="98.40" y="85.85" width="5.40" height="3.30" fill="#747474"/>
<rect x="620.40" y="85.85" width="5.40" height="3.30" fill="#747474"/>
<rect x="98.40" y="67.70" width="3.20" height="3.40" fill="#747474"/>
<rect x="622.60" y="67.70" width="3.20" height="3.40" fill="#747474"/>
<rect x="98.40" y="49.60" width="3.20" height="3.40" fill="#747474"/>
<rect x="622.60" y="49.60" width="3.20" height="3.40" fill="#747474"/>
<rect x="98.40" y="31.50" width="3.20" height="3.40" fill="#747474"/>
<rect x="622.60" y="31.50" width="3.20" height="3.40" fill="#747474"/>
<rect x="98.40" y="13.45" width="5.40" height="3.30" fill="#747474"/>
<rect x="620.40" y="13.45" width="5.40" height="3.30" fill="#747474"/>

<text transform="translate(99.00,372.00) scale(1.02,1.03)" text-anchor="middle" font-size="30" font-family="'Liberation Serif', serif" font-weight="bold">0</text>
<text transform="translate(180.70,372.00) scale(1.02,1.03)" text-anchor="middle" font-size="30" font-family="'Liberation Serif', serif" font-weight="bold">100</text>
<text transform="translate(261.50,372.00) scale(1.02,1.03)" text-anchor="middle" font-size="30" font-family="'Liberation Serif', serif" font-weight="bold">200</text>
<text transform="translate(341.80,373.70) scale(1.02,1.03)" text-anchor="middle" font-size="30" font-family="'Liberation Serif', serif" font-weight="bold">300</text>
<text transform="translate(423.40,372.40) scale(1.02,1.03)" text-anchor="middle" font-size="30" font-family="'Liberation Serif', serif" font-weight="bold">400</text>
<text transform="translate(505.30,373.30) scale(1.02,1.03)" text-anchor="middle" font-size="30" font-family="'Liberation Serif', serif" font-weight="bold">500</text>
<text transform="translate(585.30,372.40) scale(1.02,1.03)" text-anchor="middle" font-size="30" font-family="'Liberation Serif', serif" font-weight="bold">600</text>
<text transform="translate(93.20,22.90) scale(1.01,1.03)" text-anchor="end" font-size="30" font-family="'Liberation Serif', serif" font-weight="bold">0.6</text>
<text transform="translate(92.80,97.80) scale(1.01,1.03)" text-anchor="end" font-size="30" font-family="'Liberation Serif', serif" font-weight="bold">0.4</text>
<text transform="translate(93.00,168.70) scale(1.01,1.03)" text-anchor="end" font-size="30" font-family="'Liberation Serif', serif" font-weight="bold">0.2</text>
<text transform="translate(93.00,242.60) scale(1.01,1.03)" text-anchor="end" font-size="30" font-family="'Liberation Serif', serif" font-weight="bold">0.0</text>
<text transform="translate(92.60,316.10) scale(1.01,1.03)" text-anchor="end" font-size="30" font-family="'Liberation Serif', serif" font-weight="bold">-0.2</text>
<text x="364" y="413" text-anchor="middle" font-size="30" font-family="'Liberation Serif', serif" font-weight="bold">T (K)</text>
<text transform="translate(24,263.7) rotate(-90)" font-size="30" font-family="'Liberation Serif', serif" textLength="20.4" lengthAdjust="spacingAndGlyphs">Δ</text>
<text transform="translate(24,245.0) rotate(-90)" font-size="30" dx="0 0 1.3 0.8 0.4 -0.6 -0.3 -0.6 -0.2 -1.0 0.8" font-family="'Liberation Serif', serif" font-weight="bold">S (J/mol.K)</text>
<text x="437.6" y="73.7" font-size="25" fill="#ff0000" font-family="'Liberation Serif', serif" font-weight="bold">H = 3T</text>
<text x="437.6" y="104.2" font-size="25" fill="#0000ff" font-family="'Liberation Serif', serif" font-weight="bold">H = 2T</text>
<text x="437.6" y="134.9" font-size="25" fill="#00ff00" font-family="'Liberation Serif', serif" font-weight="bold">H = 1T</text>

</svg>
</body></html>
